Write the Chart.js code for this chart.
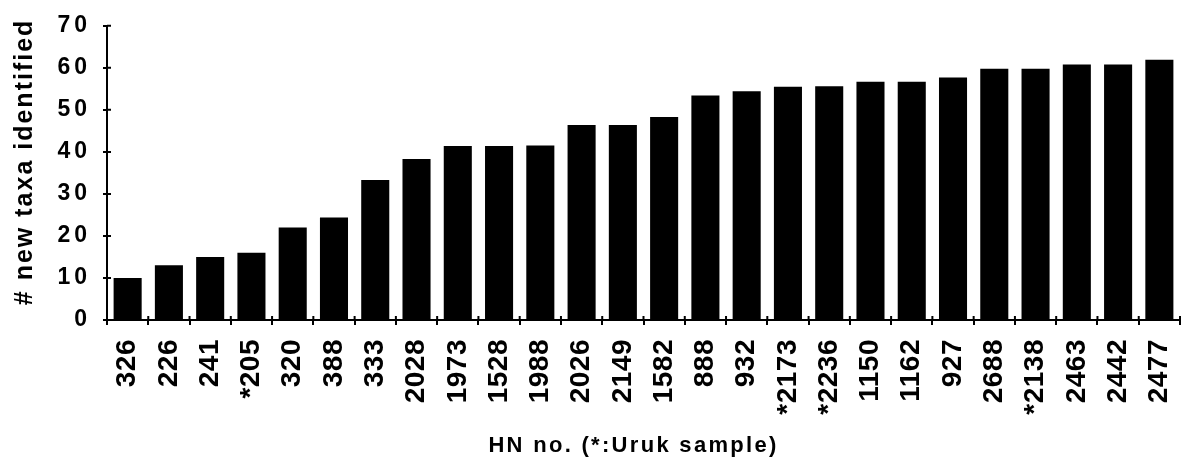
<!DOCTYPE html>
<html>
<head>
<meta charset="utf-8">
<script src="https://cdn.jsdelivr.net/npm/chart.js@4/dist/chart.umd.min.js"></script>
<style>
  html, body { margin: 0; padding: 0; background: #fff; }
  #wrap { width: 1181px; height: 466px; }
</style>
</head>
<body>
<div id="wrap"><canvas id="taxa-chart" width="1181" height="466"></canvas></div>
<script>
// monsters (HN no.), * = Uruk
const hnLabels = ['326', '226', '241', '*205', '320', '388', '333', '2028', '1973', '1528', '1988', '2026', '2149',
  '1582', '888', '932', '*2173', '*2236', '1150', '1162', '927', '2688', '*2138', '2463', '2442', '2477'];

// cumulatief aantal nieuwe taxa
const newTaxa = [10, 13, 15, 16, 22, 24.4, 33.3, 38.3, 41.4, 41.4, 41.5, 46.4, 46.4, 48.3, 53.4, 54.4, 55.5, 55.6,
  56.7, 56.7, 57.7, 59.8, 59.8, 60.8, 60.8, 61.9];

const yMin = 0;
const yMax = 70;
const yStep = 10;

const xTitle = 'HN no. (*:Uruk sample)';
const yTitle = '# new taxa identified';

const FONT = "'Liberation Sans', Arial, Helvetica, sans-serif";

// letterSpacing + verschuiving per schaal-onderdeel (spacing, dx, dy)
const tracking = {
  x: { drawLabels: [0.5, 0, 0], drawTitle: [2.3, -10, 0] },
  y: { drawLabels: [4, 0, 0], drawTitle: [2, 0, -11] }
};

function patchScale(scale, name, [spacing, dx, dy]) {
  if (!scale || scale['_orig_' + name]) return;
  const orig = scale[name];
  scale['_orig_' + name] = orig;
  scale[name] = function (...args) {
    const ctx = this.ctx;
    ctx.save();
    ctx.letterSpacing = spacing + 'px';
    ctx.translate(dx, dy);
    orig.apply(this, args);
    ctx.restore();
  };
}

const trackingPlugin = {
  id: 'tracking',
  afterUpdate(chart) {
    Object.entries(tracking).forEach(([id, parts]) => {
      Object.entries(parts).forEach(([name, cfg]) => patchScale(chart.scales[id], name, cfg));
    });
  }
};

// streepjes die door de as heen steken
const crossTicks = {
  id: 'crossTicks',
  afterDatasetsDraw(chart) {
    const { ctx, chartArea, scales: { x, y } } = chart;
    ctx.save();
    ctx.strokeStyle = '#000';
    ctx.lineWidth = 2;
    ctx.beginPath();
    y.ticks.forEach(t => {
      const py = y.getPixelForValue(t.value);
      ctx.moveTo(chartArea.left, py);
      ctx.lineTo(chartArea.left + 4, py);
    });
    for (let i = 0; i <= hnLabels.length; i++) {
      const px = x.getPixelForValue(i - 0.5);
      ctx.moveTo(px, chartArea.bottom);
      ctx.lineTo(px, chartArea.bottom - 4);
    }
    ctx.stroke();
    ctx.restore();
  }
};

new Chart(document.getElementById('taxa-chart'), {
  type: 'bar',
  data: {
    labels: hnLabels,
    datasets: [{
      data: newTaxa,
      backgroundColor: '#000',
      borderWidth: 0,
      barPercentage: 0.68,
      categoryPercentage: 1
    }]
  },
  options: {
    responsive: false,
    devicePixelRatio: 1,
    animation: false,
    layout: { padding: { top: 19, right: 1, left: 0, bottom: 0 } },
    plugins: { legend: { display: false }, tooltip: { enabled: false } },
    scales: {
      x: {
        offset: true,
        grid: { display: true, drawOnChartArea: false, offset: true, color: '#000', lineWidth: 2, tickLength: 5 },
        border: { color: '#000', width: 2 },
        ticks: {
          color: '#000',
          minRotation: 90,
          maxRotation: 90,
          autoSkip: false,
          padding: 14,
          font: { family: FONT, size: 28, weight: 'bold' }
        },
        title: {
          display: true,
          text: xTitle,
          color: '#000',
          padding: { top: 0, bottom: 7 },
          font: { family: FONT, size: 22, weight: 'bold' }
        },
        afterFit: s => { s.height = 146; s.paddingLeft = 0; s.paddingRight = 0; }
      },
      y: {
        min: yMin,
        max: yMax,
        grid: { display: true, drawOnChartArea: false, color: '#000', lineWidth: 2, tickLength: 4 },
        border: { color: '#000', width: 2 },
        ticks: {
          stepSize: yStep,
          color: '#000',
          padding: 12,
          font: { family: FONT, size: 23, weight: 'bold' }
        },
        title: {
          display: true,
          text: yTitle,
          color: '#000',
          padding: { top: 10, bottom: 0 },
          font: { family: FONT, size: 25, weight: 'bold' }
        },
        afterFit: s => { s.width = 107; }
      }
    }
  },
  plugins: [trackingPlugin, crossTicks]
});
</script>
</body>
</html>
